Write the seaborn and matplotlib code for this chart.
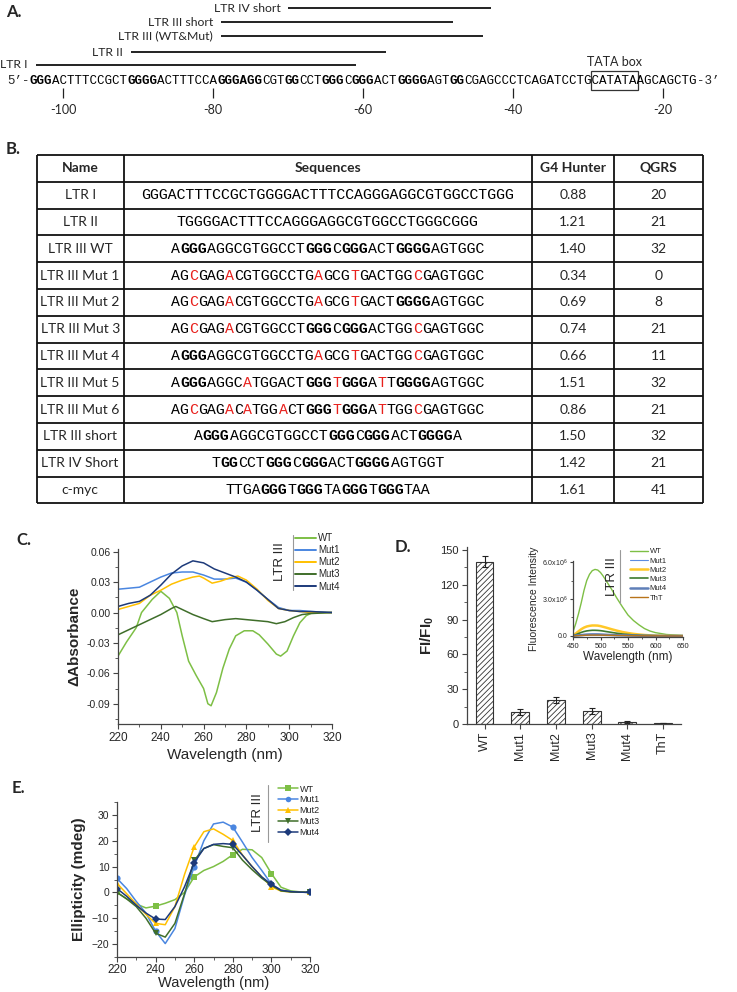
import matplotlib
matplotlib.use('Agg')
import numpy as np
import pandas as pd
import matplotlib.pyplot as plt
import seaborn as sns
from itertools import groupby
from matplotlib.lines import Line2D
from matplotlib.patches import Rectangle
from matplotlib.ticker import MultipleLocator, FixedLocator

sns.set_style('ticks')
plt.rcParams['font.family'] = ['Liberation Sans', 'DejaVu Sans']
plt.rcParams['mathtext.fontset'] = 'custom'
plt.rcParams['mathtext.rm'] = 'Liberation Sans'
plt.rcParams['mathtext.bf'] = 'Liberation Sans:bold'
plt.rcParams['hatch.linewidth'] = 0.6

LABEL_FONT = 'Lato'
SEQ_FONT = 'Liberation Mono'
W, H = 737, 992

# ---------------- data ----------------
# A: promoter map ([..] = bold G-tracts)
promoter = "[GGG]ACTTTCCGCT[GGGG]ACTTTCCA[GGGAGG]CGT[GG]CCT[GGG]C[GGG]ACT[GGGG]AGT[GG]CGAGCCCTCAGATCCTGCATATAAGCAGCTG"
promoter_start = -104
regions = ["LTR I", "LTR II", "LTR III (WT&Mut)", "LTR III short", "LTR IV short"]
region_start = [-103.7, -91, -79, -79, -70]
region_end = [-61, -57, -44, -48, -43]
tata_start, tata_end = -29, -24
pos_ticks = [-100, -80, -60, -40, -20]

# B: table ([..] = bold, lowercase = mutated base in red)
names = ["LTR I", "LTR II", "LTR III WT", "LTR III Mut 1", "LTR III Mut 2", "LTR III Mut 3",
         "LTR III Mut 4", "LTR III Mut 5", "LTR III Mut 6", "LTR III short", "LTR IV Short", "c-myc"]
sequences = [
    "GGGACTTTCCGCTGGGGACTTTCCAGGGAGGCGTGGCCTGGG",
    "TGGGGACTTTCCAGGGAGGCGTGGCCTGGGCGGG",
    "A[GGG]AGGCGTGGCCT[GGG]C[GGG]ACT[GGGG]AGTGGC",
    "AGcGAGaCGTGGCCTGaGCGtGACTGGcGAGTGGC",
    "AGcGAGaCGTGGCCTGaGCGtGACT[GGGG]AGTGGC",
    "AGcGAGaCGTGGCCT[GGG]C[GGG]ACTGGcGAGTGGC",
    "A[GGG]AGGCGTGGCCTGaGCGtGACTGGcGAGTGGC",
    "A[GGG]AGGCaTGGACT[GGG]t[GGG]AtT[GGGG]AGTGGC",
    "AGcGAGaCaTGGaCT[GGG]t[GGG]AtTGGcGAGTGGC",
    "A[GGG]AGGCGTGGCCT[GGG]C[GGG]ACT[GGGG]A",
    "T[GG]CCT[GGG]C[GGG]ACT[GGGG]AGTGGT",
    "TTGA[GGG]T[GGG]TA[GGG]T[GGG]TAA",
]
g4_hunter = [0.88, 1.21, 1.40, 0.34, 0.69, 0.74, 0.66, 1.51, 0.86, 1.50, 1.42, 1.61]
qgrs = [20, 21, 32, 0, 8, 21, 11, 32, 21, 32, 21, 41]

# C: differential absorbance
c_wl_wt = [220, 224, 228.5, 231, 236, 240, 244, 247.5, 250, 253, 256.5, 260, 262, 263.5, 266, 269,
           272, 275, 279, 283, 286, 290, 294, 296, 299, 302, 305, 308, 311, 320]
c_wt = [-0.043, -0.029, -0.015, 0.000, 0.013, 0.021, 0.014, 0.000, -0.023, -0.048, -0.062, -0.075,
        -0.090, -0.092, -0.079, -0.055, -0.036, -0.023, -0.018, -0.018, -0.022, -0.031, -0.041,
        -0.043, -0.038, -0.023, -0.010, -0.003, 0.000, 0.000]
c_wl = [220, 225, 230, 235, 240, 245, 250, 255, 260, 265, 270, 275, 280, 285, 290, 295, 300, 305, 310, 320]
c_mut1 = [0.023, 0.024, 0.025, 0.030, 0.035, 0.039, 0.040, 0.040, 0.037, 0.033, 0.033, 0.034, 0.030,
          0.022, 0.013, 0.005, 0.002, 0.002, 0.001, 0.000]
c_mut4 = [0.006, 0.009, 0.011, 0.017, 0.027, 0.038, 0.046, 0.051, 0.049, 0.043, 0.039, 0.035, 0.030,
          0.022, 0.013, 0.004, 0.002, 0.001, 0.001, 0.000]
c_wl_mut2 = [220, 225, 230, 235, 240, 245, 250, 255, 258, 260, 264, 268, 272, 276, 280, 285, 290, 295, 300, 305, 310, 320]
c_mut2 = [0.003, 0.006, 0.009, 0.017, 0.022, 0.028, 0.032, 0.035, 0.036, 0.034, 0.029, 0.031, 0.034,
          0.036, 0.032, 0.023, 0.012, 0.004, 0.002, 0.001, 0.000, 0.000]
c_wl_mut3 = [220, 225, 230, 235, 240, 245, 247, 250, 255, 260, 264, 270, 275, 280, 285, 290, 294, 298, 302, 306, 310, 320]
c_mut3 = [-0.022, -0.017, -0.012, -0.007, -0.002, 0.004, 0.006, 0.003, -0.002, -0.006, -0.009, -0.007,
          -0.006, -0.007, -0.008, -0.009, -0.011, -0.009, -0.005, -0.002, -0.001, 0.000]

# D: ThT fluorescence enhancement
d_cats = ["WT", "Mut1", "Mut2", "Mut3", "Mut4", "ThT"]
d_vals = [140, 10, 20.7, 11, 1.6, 0.8]
d_err = [5, 2.5, 3, 2.5, 0.8, 0.3]
f_wl = [450, 455, 460, 465, 470, 475, 480, 485, 490, 495, 500, 505, 510, 520, 530, 540, 550, 560,
        570, 580, 590, 600, 620, 650]
f_wt = [0.35, 1.0, 1.8, 2.7, 3.7, 4.5, 5.0, 5.3, 5.4, 5.35, 5.15, 4.85, 4.5, 3.8, 3.05, 2.35, 1.7,
        1.25, 0.9, 0.6, 0.4, 0.27, 0.12, 0.04]
f_mut1 = [0.01, 0.04, 0.07, 0.10, 0.12, 0.14, 0.15, 0.15, 0.15, 0.15, 0.14, 0.13, 0.12, 0.10, 0.08,
          0.06, 0.04, 0.03, 0.02, 0.015, 0.01, 0.005, 0.0, 0.0]
f_mut2 = [0.05, 0.2, 0.38, 0.55, 0.68, 0.77, 0.82, 0.85, 0.85, 0.84, 0.8, 0.74, 0.68, 0.55, 0.43,
          0.32, 0.24, 0.17, 0.12, 0.08, 0.05, 0.03, 0.01, 0.0]
f_mut3 = [0.02, 0.1, 0.2, 0.29, 0.36, 0.41, 0.44, 0.46, 0.46, 0.45, 0.43, 0.4, 0.36, 0.29, 0.22,
          0.16, 0.12, 0.08, 0.06, 0.04, 0.03, 0.02, 0.01, 0.0]
f_mut4 = [0.01, 0.03, 0.05, 0.07, 0.09, 0.10, 0.11, 0.12, 0.12, 0.12, 0.11, 0.10, 0.09, 0.08, 0.06,
          0.05, 0.04, 0.03, 0.02, 0.01, 0.01, 0.005, 0.0, 0.0]
f_tht = [0.01, 0.02, 0.03, 0.04, 0.05, 0.06, 0.07, 0.07, 0.07, 0.07, 0.07, 0.06, 0.06, 0.05, 0.04,
         0.04, 0.03, 0.02, 0.02, 0.01, 0.01, 0.01, 0.0, 0.0]

# E: CD spectra
e_wl = [220, 225, 230, 235, 240, 245, 250, 255, 260, 265, 270, 275, 280, 285, 290, 295, 300, 305, 310, 315, 320]
e_wt = [0, -2.5, -4.5, -6, -5.3, -4.2, -2.8, 0.0, 6.0, 8.5, 10, 12, 14.6, 16.7, 16.5, 13.5, 7.3, 2.0, 0.6, 0.2, 0]
e_mut1 = [5.4, 1.5, -3.5, -8, -15, -19.8, -14, -1, 10, 20, 26.5, 27.2, 25.3, 19.5, 13.5, 8.5, 3.2, 0.8, 0.3, 0.1, 0]
e_mut2 = [3.5, -0.5, -4.5, -8.5, -12, -12.5, -5.5, 7, 17.6, 23.5, 24.6, 22.5, 20.1, 14.5, 10, 6, 2.2, 0.5, 0.2, 0.1, 0]
e_mut3 = [0, -2.5, -5.5, -10, -15.8, -17.3, -12, -0.5, 12.4, 17, 18.5, 17.8, 17.3, 12.5, 8.8, 5.5, 2.8, 0.6, 0.2, 0.1, 0]
e_mut4 = [1.5, -1.5, -5, -8, -10.3, -10.5, -5.5, 2.2, 11.5, 17, 18.6, 18.9, 18.6, 14.4, 10, 6, 3.1, 0.9, 0.3, 0.1, 0]

col_wt, col_m1, col_m2, col_m3, col_m4 = '#7dbf45', '#4a86e0', '#ffc000', '#3f6e2a', '#1d3a7a'

fig = plt.figure(figsize=(W / 100, H / 100), dpi=100)
fig.patch.set_facecolor('white')


def px_axes(l, t, r, b):
    return fig.add_axes([l / W, 1 - b / H, (r - l) / W, (b - t) / H])


def parse(markup):
    out, bold = [], False
    for ch in markup:
        if ch == '[':
            bold = True
        elif ch == ']':
            bold = False
        elif ch.islower():
            out.append((ch.upper(), 'r'))
        else:
            out.append((ch, 'b' if bold else 'n'))
    return out


def draw_sequence(ax, markup, x_first, step, y, size):
    chars = parse(markup)
    i = 0
    for style, grp in groupby(chars, key=lambda c: c[1]):
        txt = ''.join(c[0] for c in grp)
        xc = x_first + step * (i + (len(txt) - 1) / 2)
        ax.text(xc, y, txt, ha='center', va='center', family=SEQ_FONT, size=size,
                weight='bold' if style == 'b' else 'normal',
                color='#e8201c' if style == 'r' else 'black')
        i += len(txt)
    return len(chars)


def panel_label(x, y, s):
    fig.text(x / W, 1 - y / H, s, family=LABEL_FONT, weight='bold', size=12, ha='left', va='center')


def style_axis(ax, xsize=8.5, ysize=7.5):
    sns.despine(ax=ax)
    for s in ['left', 'bottom']:
        ax.spines[s].set_color('#444')
        ax.spines[s].set_linewidth(0.9)
    ax.tick_params(which='major', direction='out', length=3.5, width=0.8, color='#444', pad=2)
    ax.tick_params(which='minor', direction='out', length=2, width=0.6, color='#444')
    ax.tick_params(axis='x', labelsize=xsize)
    ax.tick_params(axis='y', labelsize=ysize)
    ax.set_facecolor('none')


def tag(x, y, sep_x, sep_t, sep_b, size=9.5):
    fig.text(x / W, 1 - y / H, 'LTR III', rotation=90, ha='center', va='center', size=size)
    fig.add_artist(Line2D([sep_x / W] * 2, [1 - sep_t / H, 1 - sep_b / H], transform=fig.transFigure,
                          color='#999', lw=0.8))


# ---------------- A ----------------
axA = px_axes(0, 0, W, 130)
pitch_a, x0_a = 7.5, 33.25
axA.set_xlim(promoter_start - x0_a / pitch_a, promoter_start + (W - x0_a) / pitch_a)
axA.set_ylim(130, 0)
axA.axis('off')
n_prom = draw_sequence(axA, promoter, promoter_start, 1, 81, 9)
axA.text(promoter_start - 0.5, 81, "5’-", ha='right', va='center', family=SEQ_FONT, size=9)
axA.text(promoter_start + n_prom - 0.5, 81, "-3’", ha='left', va='center', family=SEQ_FONT, size=9)
region_rows = [65, 52, 36, 22, 8]
for name, s, e, yy in zip(regions, region_start, region_end, region_rows):
    axA.hlines(yy, s, e, color='#222', lw=1.4)
    axA.text(s - 1.0, yy, name, ha='right', va='center', family=LABEL_FONT, size=8.8)
axA.add_patch(Rectangle((tata_start - 0.6, 71), tata_end - tata_start + 1.2, 19, fill=False, ec='#333', lw=0.9))
axA.text((tata_start + tata_end) / 2, 62, 'TATA box', ha='center', va='center', family=LABEL_FONT, size=9)
axA.vlines(pos_ticks, 88, 98, color='#222', lw=0.9)
for p in pos_ticks:
    axA.text(p, 110, str(p), ha='center', va='center', family=LABEL_FONT, size=9)
panel_label(6, 12, 'A.')

# ---------------- B ----------------
axB = px_axes(0, 110, W, 515)
axB.set_xlim(0, W)
axB.set_ylim(515, 110)
axB.axis('off')
col_edges = [36.7, 123.6, 532, 614, 703.5]
row_top, row_h = 155, 26.8
ys = [row_top + k * row_h for k in range(len(names) + 2)]
axB.hlines(ys, col_edges[0], col_edges[-1], color='#111', lw=1.3)
axB.vlines(col_edges, ys[0], ys[-1], color='#111', lw=1.3)
col_c = [(a + b) / 2 for a, b in zip(col_edges[:-1], col_edges[1:])]
for cx, head in zip(col_c, ["Name", "Sequences", "G4 Hunter", "QGRS"]):
    axB.text(cx, row_top + row_h / 2, head, ha='center', va='center', family=LABEL_FONT, weight='bold', size=10)
pitch_b = 8.95
for k, (nm, sq, g4, q) in enumerate(zip(names, sequences, g4_hunter, qgrs)):
    yc = row_top + (k + 1.5) * row_h
    axB.text(col_c[0], yc, nm, ha='center', va='center', family=LABEL_FONT, size=10)
    n = len(parse(sq))
    draw_sequence(axB, sq, col_c[1] - pitch_b * (n - 1) / 2, pitch_b, yc, pitch_b / 0.6 * 0.72)
    axB.text(col_c[2], yc, f"{g4:.2f}", ha='center', va='center', family=LABEL_FONT, size=10)
    axB.text(col_c[3], yc, str(q), ha='center', va='center', family=LABEL_FONT, size=10)
panel_label(6, 149, 'B.')

# ---------------- C ----------------
axC = px_axes(118, 549, 332, 724)
c_series = [("WT", c_wl_wt, c_wt, col_wt), ("Mut1", c_wl, c_mut1, col_m1), ("Mut2", c_wl_mut2, c_mut2, col_m2),
            ("Mut3", c_wl_mut3, c_mut3, col_m3), ("Mut4", c_wl, c_mut4, col_m4)]
for lab, xs, vs, col in c_series:
    sns.lineplot(x=xs, y=vs, ax=axC, color=col, lw=1.1)
axC.set_xlim(220, 320)
axC.set_ylim(-0.11, 0.0627)
style_axis(axC)
axC.xaxis.set_major_locator(MultipleLocator(20))
axC.xaxis.set_minor_locator(MultipleLocator(10))
c_yticks = [-0.09, -0.06, -0.03, 0.0, 0.03, 0.06]
axC.set_yticks(c_yticks)
axC.set_yticklabels([f"{v:.2f}" for v in c_yticks])
axC.yaxis.set_minor_locator(FixedLocator([v + 0.015 for v in c_yticks[:-1]] + [-0.105]))
axC.set_xlabel('Wavelength (nm)', size=11, labelpad=3)
axC.set_ylabel('ΔAbsorbance', size=11, weight='bold', labelpad=4)
axC.legend([Line2D([], [], color=c, lw=1.4) for _, _, _, c in c_series], [s[0] for s in c_series],
           loc='upper left', bbox_to_anchor=(295 / W, 1 - 533 / H), bbox_transform=fig.transFigure,
           frameon=False, fontsize=7, handlelength=2.2, handletextpad=0.2, labelspacing=0.22,
           borderpad=0, borderaxespad=0)
tag(280, 562, 293, 535, 590)
panel_label(16, 540, 'C.')

# ---------------- D ----------------
axD = px_axes(466.7, 546.5, 681, 724)
sns.barplot(x=d_cats, y=d_vals, ax=axD, color='white', edgecolor='#333', linewidth=0.8,
            width=0.5, errorbar=None)
for p in axD.patches:
    p.set_hatch('//////')
    p.set_facecolor('white')
axD.errorbar(range(len(d_cats)), d_vals, yerr=d_err, fmt='none', ecolor='#222', elinewidth=0.8,
             capsize=2.5, capthick=0.8)
axD.set_xlim(-0.5, 5.5)
axD.set_ylim(0, 153)
style_axis(axD, xsize=9, ysize=8)
axD.yaxis.set_major_locator(MultipleLocator(30))
axD.yaxis.set_minor_locator(MultipleLocator(15))
axD.tick_params(axis='x', rotation=90)
axD.set_ylabel(r'FI/FI$_\mathbf{0}$', size=11, weight='bold', labelpad=3)

axI = px_axes(573, 560.8, 683, 637.2)
f_series = [("WT", f_wt, col_wt, 1.0), ("Mut1", f_mut1, '#5b8be0', 0.8), ("Mut2", f_mut2, '#ffc828', 1.8),
            ("Mut3", f_mut3, '#3d7a2e', 1.2), ("Mut4", f_mut4, '#5f7fb8', 1.8), ("ThT", f_tht, '#b8741a', 1.0)]
for lab, vs, col, lw in f_series:
    sns.lineplot(x=f_wl, y=np.array(vs) * 1e6, ax=axI, color=col, lw=lw)
axI.set_xlim(450, 650)
axI.set_ylim(-0.1e6, 6.1e6)
style_axis(axI, xsize=5.5, ysize=5)
axI.tick_params(which='major', length=2.5, pad=1.5)
axI.tick_params(which='minor', length=1.5)
axI.xaxis.set_major_locator(MultipleLocator(50))
axI.xaxis.set_minor_locator(MultipleLocator(25))
axI.set_yticks([0, 3e6, 6e6])
axI.set_yticklabels(['0.0', r'3.0x10$^6$', r'6.0x10$^6$'])
axI.yaxis.set_minor_locator(FixedLocator([1.5e6, 4.5e6]))
axI.set_xlabel('Wavelength (nm)', size=8.5, labelpad=1)
axI.set_ylabel('Fluorescence Intensity', size=7.5, labelpad=2)
axI.legend([Line2D([], [], color=c, lw=lw) for _, _, c, lw in f_series], [s[0] for s in f_series],
           loc='upper left', bbox_to_anchor=(630 / W, 1 - 548 / H), bbox_transform=fig.transFigure,
           frameon=False, fontsize=5.5, handlelength=2.4, handletextpad=0.2, labelspacing=0.25,
           borderpad=0, borderaxespad=0)
tag(612, 577, 620, 550, 603)
panel_label(395, 547, 'D.')

# ---------------- E ----------------
axE = px_axes(117, 802, 310, 957)
mark_idx = [i for i, w in enumerate(e_wl) if w % 20 == 0]
e_series = [("WT", e_wt, col_wt, 's'), ("Mut1", e_mut1, col_m1, 'o'), ("Mut2", e_mut2, col_m2, '^'),
            ("Mut3", e_mut3, col_m3, 'v'), ("Mut4", e_mut4, col_m4, 'D')]
for lab, vs, col, mk in e_series:
    sns.lineplot(x=e_wl, y=vs, ax=axE, color=col, lw=1.1, marker=mk, markevery=mark_idx,
                 markersize=4.5, markeredgewidth=0)
axE.set_xlim(220, 320)
axE.set_ylim(-25, 35)
style_axis(axE)
axE.tick_params(axis='x', pad=1.5)
axE.xaxis.set_major_locator(MultipleLocator(20))
axE.xaxis.set_minor_locator(MultipleLocator(10))
axE.yaxis.set_major_locator(MultipleLocator(10))
axE.yaxis.set_minor_locator(MultipleLocator(5))
axE.set_xlabel('Wavelength (nm)', size=10.5, labelpad=0)
axE.set_ylabel('Ellipticity (mdeg)', size=11, weight='bold', labelpad=4)
axE.legend([Line2D([], [], color=c, lw=1.1, marker=m, ms=4, mew=0) for _, _, c, m in e_series],
           [s[0] for s in e_series], loc='upper left', bbox_to_anchor=(278 / W, 1 - 784.5 / H),
           bbox_transform=fig.transFigure, frameon=False, fontsize=6.5, handlelength=2.2,
           handletextpad=0.2, labelspacing=0.2, borderpad=0, borderaxespad=0)
tag(258, 813, 268, 785, 842)
panel_label(12, 788, 'E.')

fig.savefig('out.png', dpi=100, facecolor='white')
